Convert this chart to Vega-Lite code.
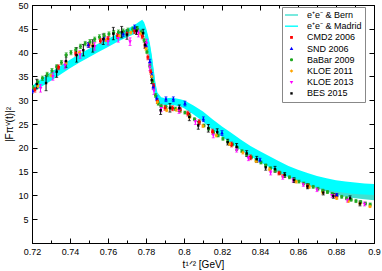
{
  "$schema": "https://vega.github.io/schema/vega-lite/v6.json",
  "width": 342,
  "height": 238,
  "autosize": {"type": "none"},
  "padding": {"left": 32, "top": 5, "right": 8, "bottom": 28},
  "config": {
    "view": {"stroke": "black", "strokeWidth": 1},
    "font": "Liberation Sans",
    "axis": {"grid": false, "domainColor": "black", "tickColor": "black", "labelColor": "black", "titleColor": "black", "labelFont": "Liberation Sans", "titleFont": "Liberation Sans", "labelFontSize": 9, "titleFontSize": 10, "titleFontWeight": "normal"}
  },
  "datasets": {
    "bands": [
      {"band":"e⁺e⁻ & Madrid","x":0.720,"hi":33.0,"lo":31.5},
      {"band":"e⁺e⁻ & Madrid","x":0.725,"hi":34.5,"lo":32.8},
      {"band":"e⁺e⁻ & Madrid","x":0.730,"hi":35.9,"lo":34.1},
      {"band":"e⁺e⁻ & Madrid","x":0.735,"hi":37.2,"lo":35.4},
      {"band":"e⁺e⁻ & Madrid","x":0.740,"hi":38.5,"lo":36.7},
      {"band":"e⁺e⁻ & Madrid","x":0.745,"hi":39.7,"lo":37.9},
      {"band":"e⁺e⁻ & Madrid","x":0.750,"hi":40.8,"lo":39.0},
      {"band":"e⁺e⁻ & Madrid","x":0.755,"hi":41.9,"lo":40.1},
      {"band":"e⁺e⁻ & Madrid","x":0.760,"hi":42.9,"lo":41.2},
      {"band":"e⁺e⁻ & Madrid","x":0.765,"hi":43.9,"lo":42.3},
      {"band":"e⁺e⁻ & Madrid","x":0.770,"hi":44.9,"lo":43.2},
      {"band":"e⁺e⁻ & Madrid","x":0.774,"hi":45.8,"lo":43.9},
      {"band":"e⁺e⁻ & Madrid","x":0.776,"hi":46.4,"lo":44.3},
      {"band":"e⁺e⁻ & Madrid","x":0.778,"hi":46.9,"lo":44.6},
      {"band":"e⁺e⁻ & Madrid","x":0.779,"hi":46.4,"lo":44.0},
      {"band":"e⁺e⁻ & Madrid","x":0.780,"hi":45.2,"lo":42.6},
      {"band":"e⁺e⁻ & Madrid","x":0.781,"hi":43.7,"lo":40.6},
      {"band":"e⁺e⁻ & Madrid","x":0.782,"hi":42.0,"lo":38.0},
      {"band":"e⁺e⁻ & Madrid","x":0.783,"hi":39.6,"lo":35.2},
      {"band":"e⁺e⁻ & Madrid","x":0.784,"hi":36.6,"lo":32.4},
      {"band":"e⁺e⁻ & Madrid","x":0.785,"hi":33.6,"lo":30.4},
      {"band":"e⁺e⁻ & Madrid","x":0.786,"hi":31.6,"lo":29.4},
      {"band":"e⁺e⁻ & Madrid","x":0.788,"hi":30.6,"lo":29.1},
      {"band":"e⁺e⁻ & Madrid","x":0.790,"hi":30.4,"lo":29.0},
      {"band":"e⁺e⁻ & Madrid","x":0.794,"hi":30.5,"lo":29.0},
      {"band":"e⁺e⁻ & Madrid","x":0.798,"hi":30.2,"lo":28.7},
      {"band":"e⁺e⁻ & Madrid","x":0.800,"hi":30.0,"lo":28.3},
      {"band":"e⁺e⁻ & Madrid","x":0.805,"hi":28.9,"lo":27.0},
      {"band":"e⁺e⁻ & Madrid","x":0.810,"hi":27.6,"lo":25.5},
      {"band":"e⁺e⁻ & Madrid","x":0.815,"hi":26.0,"lo":23.8},
      {"band":"e⁺e⁻ & Madrid","x":0.820,"hi":24.5,"lo":22.3},
      {"band":"e⁺e⁻ & Madrid","x":0.825,"hi":23.1,"lo":20.9},
      {"band":"e⁺e⁻ & Madrid","x":0.830,"hi":21.7,"lo":19.5},
      {"band":"e⁺e⁻ & Madrid","x":0.835,"hi":20.4,"lo":18.2},
      {"band":"e⁺e⁻ & Madrid","x":0.840,"hi":19.3,"lo":17.0},
      {"band":"e⁺e⁻ & Madrid","x":0.845,"hi":18.2,"lo":15.9},
      {"band":"e⁺e⁻ & Madrid","x":0.850,"hi":17.2,"lo":14.8},
      {"band":"e⁺e⁻ & Madrid","x":0.855,"hi":16.2,"lo":13.8},
      {"band":"e⁺e⁻ & Madrid","x":0.860,"hi":15.4,"lo":13.0},
      {"band":"e⁺e⁻ & Madrid","x":0.865,"hi":14.7,"lo":12.3},
      {"band":"e⁺e⁻ & Madrid","x":0.870,"hi":14.1,"lo":11.7},
      {"band":"e⁺e⁻ & Madrid","x":0.875,"hi":13.6,"lo":11.2},
      {"band":"e⁺e⁻ & Madrid","x":0.880,"hi":13.2,"lo":10.8},
      {"band":"e⁺e⁻ & Madrid","x":0.885,"hi":12.9,"lo":10.5},
      {"band":"e⁺e⁻ & Madrid","x":0.890,"hi":12.7,"lo":10.3},
      {"band":"e⁺e⁻ & Madrid","x":0.895,"hi":12.5,"lo":10.2},
      {"band":"e⁺e⁻ & Madrid","x":0.900,"hi":12.4,"lo":10.1},
      {"band":"e⁺e⁻ & Bern","x":0.720,"hi":32.6,"lo":31.7},
      {"band":"e⁺e⁻ & Bern","x":0.725,"hi":34.1,"lo":33.0},
      {"band":"e⁺e⁻ & Bern","x":0.730,"hi":35.5,"lo":34.3},
      {"band":"e⁺e⁻ & Bern","x":0.735,"hi":36.8,"lo":35.6},
      {"band":"e⁺e⁻ & Bern","x":0.740,"hi":38.1,"lo":36.9},
      {"band":"e⁺e⁻ & Bern","x":0.745,"hi":39.3,"lo":38.1},
      {"band":"e⁺e⁻ & Bern","x":0.750,"hi":40.4,"lo":39.2},
      {"band":"e⁺e⁻ & Bern","x":0.755,"hi":41.5,"lo":40.3},
      {"band":"e⁺e⁻ & Bern","x":0.760,"hi":42.5,"lo":41.4},
      {"band":"e⁺e⁻ & Bern","x":0.765,"hi":43.5,"lo":42.5},
      {"band":"e⁺e⁻ & Bern","x":0.770,"hi":44.5,"lo":43.4},
      {"band":"e⁺e⁻ & Bern","x":0.774,"hi":45.4,"lo":44.1},
      {"band":"e⁺e⁻ & Bern","x":0.776,"hi":46.0,"lo":44.5},
      {"band":"e⁺e⁻ & Bern","x":0.778,"hi":46.5,"lo":44.8},
      {"band":"e⁺e⁻ & Bern","x":0.779,"hi":46.0,"lo":44.2},
      {"band":"e⁺e⁻ & Bern","x":0.780,"hi":44.8,"lo":42.8},
      {"band":"e⁺e⁻ & Bern","x":0.781,"hi":43.3,"lo":40.8},
      {"band":"e⁺e⁻ & Bern","x":0.782,"hi":41.6,"lo":38.2},
      {"band":"e⁺e⁻ & Bern","x":0.783,"hi":39.2,"lo":35.4},
      {"band":"e⁺e⁻ & Bern","x":0.784,"hi":36.2,"lo":32.6},
      {"band":"e⁺e⁻ & Bern","x":0.785,"hi":33.2,"lo":30.6},
      {"band":"e⁺e⁻ & Bern","x":0.786,"hi":31.2,"lo":29.6},
      {"band":"e⁺e⁻ & Bern","x":0.788,"hi":30.2,"lo":29.3},
      {"band":"e⁺e⁻ & Bern","x":0.790,"hi":30.0,"lo":29.2},
      {"band":"e⁺e⁻ & Bern","x":0.794,"hi":30.1,"lo":29.2},
      {"band":"e⁺e⁻ & Bern","x":0.798,"hi":29.8,"lo":28.9},
      {"band":"e⁺e⁻ & Bern","x":0.800,"hi":29.6,"lo":28.5},
      {"band":"e⁺e⁻ & Bern","x":0.805,"hi":28.5,"lo":27.2},
      {"band":"e⁺e⁻ & Bern","x":0.810,"hi":27.2,"lo":25.7},
      {"band":"e⁺e⁻ & Bern","x":0.815,"hi":25.6,"lo":24.0},
      {"band":"e⁺e⁻ & Bern","x":0.820,"hi":24.1,"lo":22.5},
      {"band":"e⁺e⁻ & Bern","x":0.825,"hi":22.7,"lo":21.1},
      {"band":"e⁺e⁻ & Bern","x":0.830,"hi":21.3,"lo":19.7},
      {"band":"e⁺e⁻ & Bern","x":0.835,"hi":20.0,"lo":18.4},
      {"band":"e⁺e⁻ & Bern","x":0.840,"hi":18.9,"lo":17.2},
      {"band":"e⁺e⁻ & Bern","x":0.845,"hi":17.8,"lo":16.1},
      {"band":"e⁺e⁻ & Bern","x":0.850,"hi":16.8,"lo":15.0},
      {"band":"e⁺e⁻ & Bern","x":0.855,"hi":15.8,"lo":14.0},
      {"band":"e⁺e⁻ & Bern","x":0.860,"hi":15.0,"lo":13.0},
      {"band":"e⁺e⁻ & Bern","x":0.865,"hi":14.2,"lo":12.2},
      {"band":"e⁺e⁻ & Bern","x":0.870,"hi":13.5,"lo":11.5},
      {"band":"e⁺e⁻ & Bern","x":0.875,"hi":12.8,"lo":10.8},
      {"band":"e⁺e⁻ & Bern","x":0.880,"hi":12.2,"lo":10.2},
      {"band":"e⁺e⁻ & Bern","x":0.885,"hi":11.7,"lo":9.7},
      {"band":"e⁺e⁻ & Bern","x":0.890,"hi":11.3,"lo":9.4},
      {"band":"e⁺e⁻ & Bern","x":0.895,"hi":11.0,"lo":9.2},
      {"band":"e⁺e⁻ & Bern","x":0.900,"hi":10.8,"lo":9.0}
    ],
    "pts": [
      {"e":"BaBar 2009","x":0.7205,"y":32.6,"err":0.45},
      {"e":"BaBar 2009","x":0.7230,"y":33.8,"err":0.45},
      {"e":"BaBar 2009","x":0.7255,"y":34.6,"err":0.45},
      {"e":"BaBar 2009","x":0.7280,"y":35.4,"err":0.45},
      {"e":"BaBar 2009","x":0.7305,"y":36.2,"err":0.45},
      {"e":"BaBar 2009","x":0.7330,"y":37.0,"err":0.45},
      {"e":"BaBar 2009","x":0.7355,"y":37.9,"err":0.45},
      {"e":"BaBar 2009","x":0.7380,"y":39.5,"err":0.45},
      {"e":"BaBar 2009","x":0.7405,"y":40.0,"err":0.45},
      {"e":"BaBar 2009","x":0.7430,"y":40.6,"err":0.45},
      {"e":"BaBar 2009","x":0.7455,"y":41.3,"err":0.45},
      {"e":"BaBar 2009","x":0.7480,"y":41.9,"err":0.45},
      {"e":"BaBar 2009","x":0.7505,"y":42.3,"err":0.45},
      {"e":"BaBar 2009","x":0.7530,"y":42.8,"err":0.45},
      {"e":"BaBar 2009","x":0.7555,"y":43.3,"err":0.45},
      {"e":"BaBar 2009","x":0.7580,"y":43.6,"err":0.45},
      {"e":"BaBar 2009","x":0.7605,"y":43.9,"err":0.45},
      {"e":"BaBar 2009","x":0.7630,"y":44.2,"err":0.45},
      {"e":"BaBar 2009","x":0.7655,"y":44.3,"err":0.45},
      {"e":"BaBar 2009","x":0.7680,"y":44.5,"err":0.45},
      {"e":"BaBar 2009","x":0.7705,"y":44.7,"err":0.45},
      {"e":"BaBar 2009","x":0.7730,"y":44.9,"err":0.45},
      {"e":"BaBar 2009","x":0.7755,"y":45.0,"err":0.45},
      {"e":"BaBar 2009","x":0.7775,"y":44.3,"err":0.4},
      {"e":"BaBar 2009","x":0.7790,"y":42.6,"err":0.4},
      {"e":"BaBar 2009","x":0.7805,"y":40.2,"err":0.4},
      {"e":"BaBar 2009","x":0.7820,"y":37.2,"err":0.4},
      {"e":"BaBar 2009","x":0.7835,"y":34.0,"err":0.4},
      {"e":"BaBar 2009","x":0.7850,"y":31.0,"err":0.4},
      {"e":"BaBar 2009","x":0.7865,"y":29.3,"err":0.35},
      {"e":"BaBar 2009","x":0.7880,"y":28.8,"err":0.35},
      {"e":"BaBar 2009","x":0.7905,"y":28.6,"err":0.35},
      {"e":"BaBar 2009","x":0.7930,"y":28.4,"err":0.35},
      {"e":"BaBar 2009","x":0.7955,"y":28.2,"err":0.35},
      {"e":"BaBar 2009","x":0.7980,"y":27.9,"err":0.35},
      {"e":"BaBar 2009","x":0.8005,"y":27.4,"err":0.3},
      {"e":"BaBar 2009","x":0.8030,"y":26.7,"err":0.3},
      {"e":"BaBar 2009","x":0.8055,"y":26.0,"err":0.3},
      {"e":"BaBar 2009","x":0.8080,"y":25.4,"err":0.3},
      {"e":"BaBar 2009","x":0.8105,"y":24.7,"err":0.3},
      {"e":"BaBar 2009","x":0.8130,"y":24.0,"err":0.3},
      {"e":"BaBar 2009","x":0.8155,"y":23.3,"err":0.3},
      {"e":"BaBar 2009","x":0.8180,"y":22.6,"err":0.3},
      {"e":"BaBar 2009","x":0.8205,"y":21.9,"err":0.3},
      {"e":"BaBar 2009","x":0.8230,"y":21.3,"err":0.3},
      {"e":"BaBar 2009","x":0.8255,"y":20.7,"err":0.3},
      {"e":"BaBar 2009","x":0.8280,"y":20.0,"err":0.3},
      {"e":"BaBar 2009","x":0.8305,"y":19.3,"err":0.3},
      {"e":"BaBar 2009","x":0.8330,"y":18.6,"err":0.3},
      {"e":"BaBar 2009","x":0.8355,"y":18.0,"err":0.3},
      {"e":"BaBar 2009","x":0.8380,"y":17.4,"err":0.3},
      {"e":"BaBar 2009","x":0.8405,"y":16.9,"err":0.3},
      {"e":"BaBar 2009","x":0.8430,"y":16.3,"err":0.3},
      {"e":"BaBar 2009","x":0.8455,"y":15.7,"err":0.3},
      {"e":"BaBar 2009","x":0.8480,"y":15.2,"err":0.3},
      {"e":"BaBar 2009","x":0.8505,"y":14.7,"err":0.3},
      {"e":"BaBar 2009","x":0.8530,"y":14.2,"err":0.3},
      {"e":"BaBar 2009","x":0.8555,"y":13.8,"err":0.3},
      {"e":"BaBar 2009","x":0.8580,"y":13.3,"err":0.3},
      {"e":"BaBar 2009","x":0.8605,"y":12.9,"err":0.3},
      {"e":"BaBar 2009","x":0.8630,"y":12.5,"err":0.3},
      {"e":"BaBar 2009","x":0.8655,"y":12.2,"err":0.3},
      {"e":"BaBar 2009","x":0.8680,"y":11.8,"err":0.3},
      {"e":"BaBar 2009","x":0.8705,"y":11.4,"err":0.3},
      {"e":"BaBar 2009","x":0.8730,"y":11.0,"err":0.3},
      {"e":"BaBar 2009","x":0.8755,"y":10.7,"err":0.3},
      {"e":"BaBar 2009","x":0.8780,"y":10.3,"err":0.3},
      {"e":"BaBar 2009","x":0.8805,"y":10.0,"err":0.3},
      {"e":"BaBar 2009","x":0.8830,"y":9.7,"err":0.3},
      {"e":"BaBar 2009","x":0.8855,"y":9.4,"err":0.3},
      {"e":"BaBar 2009","x":0.8880,"y":9.1,"err":0.3},
      {"e":"BaBar 2009","x":0.8905,"y":8.8,"err":0.3},
      {"e":"BaBar 2009","x":0.8930,"y":8.6,"err":0.3},
      {"e":"BaBar 2009","x":0.8955,"y":8.3,"err":0.3},
      {"e":"BaBar 2009","x":0.8980,"y":8.1,"err":0.3},
      {"e":"CMD2 2006","x":0.7215,"y":32.2,"err":0.5},
      {"e":"CMD2 2006","x":0.7340,"y":36.9,"err":0.5},
      {"e":"CMD2 2006","x":0.7430,"y":39.8,"err":0.5},
      {"e":"CMD2 2006","x":0.7500,"y":41.6,"err":0.5},
      {"e":"CMD2 2006","x":0.7560,"y":42.5,"err":0.5},
      {"e":"CMD2 2006","x":0.7600,"y":42.9,"err":0.5},
      {"e":"CMD2 2006","x":0.7650,"y":43.5,"err":0.5},
      {"e":"CMD2 2006","x":0.7700,"y":44.0,"err":0.5},
      {"e":"CMD2 2006","x":0.7740,"y":44.5,"err":0.5},
      {"e":"CMD2 2006","x":0.7780,"y":43.4,"err":0.5},
      {"e":"CMD2 2006","x":0.7795,"y":41.5,"err":0.5},
      {"e":"CMD2 2006","x":0.7810,"y":39.0,"err":0.5},
      {"e":"CMD2 2006","x":0.7825,"y":36.0,"err":0.5},
      {"e":"CMD2 2006","x":0.7840,"y":33.0,"err":0.5},
      {"e":"CMD2 2006","x":0.7860,"y":29.8,"err":0.5},
      {"e":"CMD2 2006","x":0.7900,"y":28.4,"err":0.5},
      {"e":"CMD2 2006","x":0.7940,"y":28.3,"err":0.5},
      {"e":"CMD2 2006","x":0.7980,"y":28.0,"err":0.5},
      {"e":"CMD2 2006","x":0.8020,"y":27.2,"err":0.5},
      {"e":"CMD2 2006","x":0.8080,"y":25.4,"err":0.5},
      {"e":"CMD2 2006","x":0.8150,"y":23.4,"err":0.5},
      {"e":"CMD2 2006","x":0.8250,"y":20.7,"err":0.5},
      {"e":"CMD2 2006","x":0.8350,"y":18.0,"err":0.5},
      {"e":"CMD2 2006","x":0.8500,"y":14.7,"err":0.4},
      {"e":"CMD2 2006","x":0.8650,"y":12.0,"err":0.4},
      {"e":"CMD2 2006","x":0.8800,"y":9.9,"err":0.4},
      {"e":"SND 2006","x":0.7202,"y":32.0,"err":0.5},
      {"e":"SND 2006","x":0.7496,"y":41.6,"err":0.5},
      {"e":"SND 2006","x":0.7580,"y":42.9,"err":0.5},
      {"e":"SND 2006","x":0.7680,"y":43.9,"err":0.5},
      {"e":"SND 2006","x":0.7740,"y":45.3,"err":0.5},
      {"e":"SND 2006","x":0.7800,"y":41.5,"err":0.5},
      {"e":"SND 2006","x":0.7820,"y":38.1,"err":0.5},
      {"e":"SND 2006","x":0.7830,"y":35.3,"err":0.5},
      {"e":"SND 2006","x":0.7838,"y":32.8,"err":0.5},
      {"e":"SND 2006","x":0.7856,"y":30.4,"err":0.5},
      {"e":"SND 2006","x":0.7905,"y":30.2,"err":0.5},
      {"e":"SND 2006","x":0.7944,"y":30.2,"err":0.5},
      {"e":"SND 2006","x":0.8005,"y":29.3,"err":0.5},
      {"e":"SND 2006","x":0.8102,"y":26.0,"err":0.5},
      {"e":"SND 2006","x":0.8200,"y":23.1,"err":0.5},
      {"e":"SND 2006","x":0.8400,"y":17.4,"err":0.4},
      {"e":"SND 2006","x":0.8804,"y":10.1,"err":0.3},
      {"e":"KLOE 2011","x":0.7230,"y":33.0,"err":0.3},
      {"e":"KLOE 2011","x":0.7300,"y":35.2,"err":0.3},
      {"e":"KLOE 2011","x":0.7380,"y":37.8,"err":0.3},
      {"e":"KLOE 2011","x":0.7450,"y":40.0,"err":0.3},
      {"e":"KLOE 2011","x":0.7520,"y":41.5,"err":0.3},
      {"e":"KLOE 2011","x":0.7590,"y":42.6,"err":0.3},
      {"e":"KLOE 2011","x":0.7660,"y":43.5,"err":0.3},
      {"e":"KLOE 2011","x":0.7720,"y":44.2,"err":0.3},
      {"e":"KLOE 2011","x":0.7770,"y":44.0,"err":0.3},
      {"e":"KLOE 2011","x":0.7800,"y":40.8,"err":0.3},
      {"e":"KLOE 2011","x":0.7830,"y":35.0,"err":0.3},
      {"e":"KLOE 2011","x":0.7860,"y":29.6,"err":0.3},
      {"e":"KLOE 2011","x":0.7909,"y":27.9,"err":0.3},
      {"e":"KLOE 2011","x":0.7960,"y":28.0,"err":0.3},
      {"e":"KLOE 2011","x":0.8030,"y":26.5,"err":0.3},
      {"e":"KLOE 2011","x":0.8100,"y":24.6,"err":0.3},
      {"e":"KLOE 2011","x":0.8170,"y":22.6,"err":0.3},
      {"e":"KLOE 2011","x":0.8240,"y":20.8,"err":0.3},
      {"e":"KLOE 2011","x":0.8310,"y":19.0,"err":0.3},
      {"e":"KLOE 2011","x":0.8380,"y":17.2,"err":0.3},
      {"e":"KLOE 2011","x":0.8450,"y":15.5,"err":0.3},
      {"e":"KLOE 2011","x":0.8520,"y":14.1,"err":0.3},
      {"e":"KLOE 2011","x":0.8590,"y":12.9,"err":0.3},
      {"e":"KLOE 2011","x":0.8660,"y":11.8,"err":0.3},
      {"e":"KLOE 2011","x":0.8730,"y":10.6,"err":0.3},
      {"e":"KLOE 2011","x":0.8804,"y":9.4,"err":0.25},
      {"e":"KLOE 2011","x":0.8865,"y":8.8,"err":0.25},
      {"e":"KLOE 2011","x":0.8926,"y":8.3,"err":0.25},
      {"e":"KLOE 2011","x":0.8979,"y":7.7,"err":0.25},
      {"e":"KLOE 2013","x":0.7245,"y":32.5,"err":0.8},
      {"e":"KLOE 2013","x":0.7310,"y":35.0,"err":0.8},
      {"e":"KLOE 2013","x":0.7374,"y":37.4,"err":0.8},
      {"e":"KLOE 2013","x":0.7453,"y":39.6,"err":0.8},
      {"e":"KLOE 2013","x":0.7530,"y":41.3,"err":0.8},
      {"e":"KLOE 2013","x":0.7600,"y":42.4,"err":0.8},
      {"e":"KLOE 2013","x":0.7654,"y":43.0,"err":0.8},
      {"e":"KLOE 2013","x":0.7716,"y":42.3,"err":0.8},
      {"e":"KLOE 2013","x":0.7760,"y":44.1,"err":0.8},
      {"e":"KLOE 2013","x":0.7803,"y":42.0,"err":0.8},
      {"e":"KLOE 2013","x":0.7820,"y":37.0,"err":0.8},
      {"e":"KLOE 2013","x":0.7842,"y":32.0,"err":0.8},
      {"e":"KLOE 2013","x":0.7880,"y":28.3,"err":0.7},
      {"e":"KLOE 2013","x":0.7974,"y":27.9,"err":0.7},
      {"e":"KLOE 2013","x":0.8060,"y":25.5,"err":0.6},
      {"e":"KLOE 2013","x":0.8154,"y":22.7,"err":0.6},
      {"e":"KLOE 2013","x":0.8277,"y":19.6,"err":0.5},
      {"e":"KLOE 2013","x":0.8339,"y":17.8,"err":0.5},
      {"e":"KLOE 2013","x":0.8456,"y":14.8,"err":0.5},
      {"e":"KLOE 2013","x":0.8520,"y":13.9,"err":0.5},
      {"e":"KLOE 2013","x":0.8575,"y":13.2,"err":0.4},
      {"e":"KLOE 2013","x":0.8628,"y":12.3,"err":0.4},
      {"e":"KLOE 2013","x":0.8700,"y":11.2,"err":0.4},
      {"e":"KLOE 2013","x":0.8780,"y":10.0,"err":0.4},
      {"e":"KLOE 2013","x":0.8860,"y":9.0,"err":0.4},
      {"e":"KLOE 2013","x":0.8950,"y":8.2,"err":0.4},
      {"e":"BES 2015","x":0.7225,"y":33.4,"err":1.0},
      {"e":"BES 2015","x":0.7274,"y":33.6,"err":1.6},
      {"e":"BES 2015","x":0.7330,"y":36.0,"err":1.2},
      {"e":"BES 2015","x":0.7379,"y":38.2,"err":1.3},
      {"e":"BES 2015","x":0.7435,"y":39.5,"err":1.5},
      {"e":"BES 2015","x":0.7470,"y":40.5,"err":1.2},
      {"e":"BES 2015","x":0.7520,"y":41.4,"err":1.3},
      {"e":"BES 2015","x":0.7575,"y":42.8,"err":1.1},
      {"e":"BES 2015","x":0.7628,"y":44.0,"err":1.3},
      {"e":"BES 2015","x":0.7672,"y":44.3,"err":1.2},
      {"e":"BES 2015","x":0.7700,"y":43.8,"err":1.0},
      {"e":"BES 2015","x":0.7750,"y":44.6,"err":0.8},
      {"e":"BES 2015","x":0.7785,"y":44.1,"err":0.8},
      {"e":"BES 2015","x":0.7795,"y":41.6,"err":0.7},
      {"e":"BES 2015","x":0.7830,"y":34.2,"err":0.7},
      {"e":"BES 2015","x":0.7877,"y":27.9,"err":0.9},
      {"e":"BES 2015","x":0.7926,"y":28.4,"err":0.9},
      {"e":"BES 2015","x":0.7975,"y":28.3,"err":0.7},
      {"e":"BES 2015","x":0.8028,"y":26.5,"err":0.8},
      {"e":"BES 2015","x":0.8075,"y":24.7,"err":0.8},
      {"e":"BES 2015","x":0.8128,"y":24.1,"err":0.8},
      {"e":"BES 2015","x":0.8175,"y":23.3,"err":0.7},
      {"e":"BES 2015","x":0.8230,"y":21.2,"err":0.6},
      {"e":"BES 2015","x":0.8277,"y":20.2,"err":0.7},
      {"e":"BES 2015","x":0.8330,"y":18.8,"err":0.6},
      {"e":"BES 2015","x":0.8383,"y":17.6,"err":0.6},
      {"e":"BES 2015","x":0.8430,"y":15.9,"err":0.6},
      {"e":"BES 2015","x":0.8479,"y":15.5,"err":0.6},
      {"e":"BES 2015","x":0.8530,"y":14.3,"err":0.5},
      {"e":"BES 2015","x":0.8579,"y":13.2,"err":0.5},
      {"e":"BES 2015","x":0.8650,"y":11.9,"err":0.5},
      {"e":"BES 2015","x":0.8733,"y":10.6,"err":0.5},
      {"e":"BES 2015","x":0.8786,"y":9.9,"err":0.5},
      {"e":"BES 2015","x":0.8874,"y":9.4,"err":0.5},
      {"e":"BES 2015","x":0.8926,"y":8.3,"err":0.5}
    ]
  },
  "layer": [
    {
      "data": {"name": "bands"},
      "transform": [{"filter": "datum.band == 'e⁺e⁻ & Bern'"}],
      "mark": {"type": "area", "clip": true, "opacity": 1},
      "encoding": {
        "x": {"field": "x", "type": "quantitative", "scale": {"domain": [0.72, 0.9], "nice": false, "zero": false},
          "axis": {"orient": "bottom", "title": "t¹ᐟ² [GeV]", "values": [0.72,0.73,0.74,0.75,0.76,0.77,0.78,0.79,0.8,0.81,0.82,0.83,0.84,0.85,0.86,0.87,0.88,0.89,0.9],
            "labelExpr": "round(datum.value*100) % 2 == 0 ? format(datum.value, '.2~f') : ''",
            "tickSize": {"condition": {"test": "round(datum.value*100) % 2 == 0", "value": -5}, "value": -3},
            "labelPadding": 9, "titlePadding": 1, "labelFlush": false, "labelOverlap": false}},
        "y": {"field": "hi", "type": "quantitative", "scale": {"domain": [0, 50], "nice": false},
          "axis": {"orient": "left", "title": "|Fπⱽ(t)|²", "values": [0,5,10,15,20,25,30,35,40,45,50],
            "labelExpr": "datum.value == 0 ? '' : datum.label", "tickSize": -5, "labelPadding": 9, "titlePadding": 3, "labelFlush": false}},
        "y2": {"field": "lo"},
        "color": {"field": "band", "type": "nominal", "title": null,
          "scale": {"domain": ["e⁺e⁻ & Bern", "e⁺e⁻ & Madrid", "CMD2 2006", "SND 2006", "BaBar 2009", "KLOE 2011", "KLOE 2013", "BES 2015"],
                    "range": ["#40e0d0", "#00ffff", "#ff0000", "#0000ff", "#1fa81f", "#ffa500", "#ff00ff", "#000000"]},
          "legend": {"orient": "none", "legendX": 250, "legendY": 2, "padding": 3, "strokeColor": "#888888", "fillColor": "white", "labelFont": "Liberation Sans", "labelFontSize": 9, "labelColor": "black", "labelOffset": 10.5, "rowPadding": 1.2, "symbolSize": 100, "symbolOffset": 1.5, "symbolStrokeWidth": 0, "symbolOpacity": 1}}
      }
    },
    {
      "data": {"name": "bands"},
      "transform": [{"filter": "datum.band == 'e⁺e⁻ & Madrid'"}],
      "mark": {"type": "area", "clip": true, "opacity": 1},
      "encoding": {
        "x": {"field": "x", "type": "quantitative",
          "axis": {"orient": "top", "title": null, "labels": false, "values": [0.72,0.73,0.74,0.75,0.76,0.77,0.78,0.79,0.8,0.81,0.82,0.83,0.84,0.85,0.86,0.87,0.88,0.89,0.9],
            "tickSize": {"condition": {"test": "round(datum.value*100) % 2 == 0", "value": -5}, "value": -3}}},
        "y": {"field": "hi", "type": "quantitative",
          "axis": {"orient": "right", "title": null, "labels": false, "values": [0,5,10,15,20,25,30,35,40,45,50], "tickSize": -5}},
        "y2": {"field": "lo"},
        "color": {"field": "band", "type": "nominal", "title": null,
          "legend": {"orient": "none", "legendX": 250, "legendY": 2, "padding": 3, "strokeColor": "#888888", "fillColor": "white", "labelFont": "Liberation Sans", "labelFontSize": 9, "labelColor": "black", "labelOffset": 10.5, "rowPadding": 1.2, "symbolSize": 100, "symbolOffset": 1.5, "symbolStrokeWidth": 0, "symbolOpacity": 1}}
      }
    },
    {
      "data": {"name": "pts"},
      "mark": {"type": "errorbar", "ticks": {"size": 3}, "thickness": 1, "clip": true},
      "encoding": {
        "x": {"field": "x", "type": "quantitative", "axis": null},
        "y": {"field": "y", "type": "quantitative", "axis": null},
        "yError": {"field": "err"},
        "color": {"field": "e", "type": "nominal", "title": null,
          "legend": {"orient": "none", "legendX": 250, "legendY": 2, "padding": 3, "strokeColor": "#888888", "fillColor": "white", "labelFont": "Liberation Sans", "labelFontSize": 9, "labelColor": "black", "labelOffset": 10.5, "rowPadding": 1.2, "symbolSize": 100, "symbolOffset": 1.5, "symbolStrokeWidth": 0, "symbolOpacity": 1}}
      }
    },
    {
      "data": {"name": "pts"},
      "mark": {"type": "point", "filled": true, "size": 100, "opacity": 1, "strokeWidth": 0, "clip": true},
      "encoding": {
        "x": {"field": "x", "type": "quantitative", "axis": null},
        "y": {"field": "y", "type": "quantitative", "axis": null},
        "color": {"field": "e", "type": "nominal", "title": null,
          "legend": {"orient": "none", "legendX": 250, "legendY": 2, "padding": 3, "strokeColor": "#888888", "fillColor": "white", "labelFont": "Liberation Sans", "labelFontSize": 9, "labelColor": "black", "labelOffset": 10.5, "rowPadding": 1.2, "symbolSize": 100, "symbolOffset": 1.5, "symbolStrokeWidth": 0, "symbolOpacity": 1}},
        "shape": {"field": "e", "type": "nominal", "title": null,
          "scale": {"domain": ["e⁺e⁻ & Bern", "e⁺e⁻ & Madrid", "CMD2 2006", "SND 2006", "BaBar 2009", "KLOE 2011", "KLOE 2013", "BES 2015"],
                    "range": ["M-1.3,-0.14H1.3V0.14H-1.3Z", "M-1.3,-0.14H1.3V0.14H-1.3Z", "M-0.28,-0.28H0.28V0.28H-0.28Z", "M0,-0.38L0.36,0.26H-0.36Z", "M-0.3,-0.14L-0.14,-0.3H0.14L0.3,-0.14V0.14L0.14,0.3H-0.14L-0.3,0.14Z", "M0,-0.36L0.36,0L0,0.36L-0.36,0Z", "M0,0.38L0.36,-0.26H-0.36Z", "M-0.24,-0.24H0.24V0.24H-0.24Z"]},
          "legend": {"orient": "none", "legendX": 250, "legendY": 2, "padding": 3, "strokeColor": "#888888", "fillColor": "white", "labelFont": "Liberation Sans", "labelFontSize": 9, "labelColor": "black", "labelOffset": 10.5, "rowPadding": 1.2, "symbolSize": 100, "symbolOffset": 1.5, "symbolStrokeWidth": 0, "symbolOpacity": 1}}
      }
    }
  ],
  "resolve": {"axis": {"x": "independent", "y": "independent"}}
}
